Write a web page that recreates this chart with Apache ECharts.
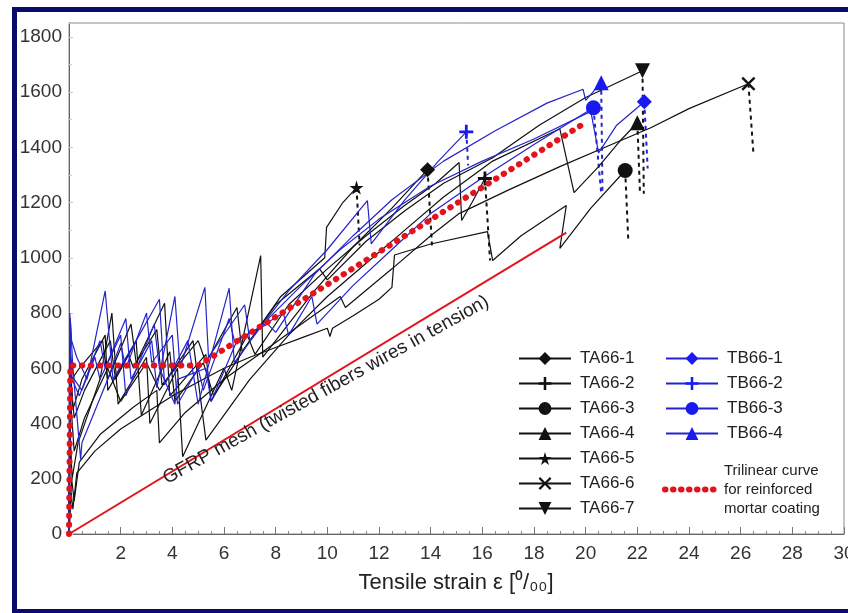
<!DOCTYPE html>
<html><head><meta charset="utf-8">
<script src="https://cdn.jsdelivr.net/npm/echarts@6/dist/echarts.min.js"></script>
<style>html,body{margin:0;padding:0;background:#fff;}#c{width:848px;height:613px;}</style>
</head><body><div id="c"></div>
<script>
// ---- data (strain in per mille, stress) ----
const TA66_1 = [[0,0],[0.04,380],[0.12,200],[0.35,330],[1.2,560],[1.66,800],[1.9,470],[3.0,640],[3.13,400],[4.2,600],[4.4,280],[6.0,600],[6.3,520],[7.42,1008],[7.5,640],[9.5,880],[11,1040],[12.5,1180],[13.88,1319]];
const TA66_2 = [[0,0],[0.06,600],[0.15,450],[0.5,560],[1.4,720],[1.5,520],[2.3,650],[2.5,600],[3.7,835],[3.9,500],[5.3,650],[5.5,480],[6.9,720],[7.2,650],[8.5,830],[10,960],[11.5,1080],[13,1190],[14.2,1270],[15.1,1345],[15.2,1135],[15.6,1200],[16.1,1287]];
const TA66_3 = [[0,0],[0.08,150],[0.15,90],[0.3,220],[1,300],[2,380],[3,440],[4,500],[5,550],[6,600],[7,640],[8,675],[9,710],[10,745],[10.1,715],[10.2,745],[11,790],[12,850],[12.5,893],[12.6,1010],[14,1050],[16.2,1095],[16.4,990],[17.5,1080],[19.25,1189],[19.0,1034],[20.2,1180],[21.53,1316]];
const TA66_4 = [[0,0],[0.05,500],[0.2,300],[0.6,420],[1.5,600],[2.0,480],[3.0,620],[3.5,520],[4.8,700],[5.3,340],[7,560],[8.5,720],[10,860],[11.5,980],[13,1100],[14.5,1220],[16.4,1350],[19.0,1467],[19.55,1236],[20.5,1330],[21.3,1420],[22.0,1489]];
const TA66_5 = [[0,0],[0.07,560],[0.2,420],[0.6,520],[1.6,700],[1.8,560],[2.6,700],[2.8,430],[3.9,660],[4.1,480],[5.2,620],[5.6,500],[7,700],[8.2,860],[9.9,1000],[9.97,1110],[10.6,1200],[11.13,1254]];
const TA66_6 = [[0,0],[0.1,200],[0.2,120],[0.4,260],[1.2,360],[2.5,460],[3.4,520],[3.5,330],[4.5,440],[6,560],[7.5,660],[9,760],[10.5,860],[10.7,820],[12.5,960],[14,1080],[15.1,1160],[17,1245],[19,1330],[21,1410],[22.5,1470],[24,1540],[26.3,1630]];
const TA66_7 = [[0,0],[0.05,620],[0.1,560],[0.4,600],[1.3,700],[1.5,560],[2.4,760],[2.6,620],[3.4,740],[3.6,540],[5,700],[5.3,620],[6.5,820],[6.7,660],[8,830],[9.7,960],[10,920],[11.5,1060],[13,1170],[14.5,1270],[16.4,1362],[18.2,1480],[20,1580],[22.2,1677]];
const TB66_1 = [[0,0],[0.03,800],[0.1,700],[0.3,640],[0.7,560],[1.4,880],[1.7,560],[2.6,700],[3.5,850],[3.7,540],[4.6,700],[5.0,470],[6.2,890],[6.4,620],[7.5,760],[9,900],[10.5,1030],[12,1140],[14,1260],[16,1350],[18,1430],[20.2,1530],[20.5,1380],[21.2,1480],[22.27,1565]];
const TB66_2 = [[0,0],[0.04,700],[0.12,560],[0.4,500],[1.2,700],[1.4,600],[2.2,780],[2.4,560],[3.2,700],[3.4,530],[4.1,860],[4.3,600],[5.26,893],[5.4,640],[6.8,830],[7.0,700],[8.5,880],[10,1030],[11.55,1207],[11.7,1050],[13,1210],[14.3,1350],[15.38,1456]];
const TB66_3 = [[0,0],[0.05,650],[0.2,560],[0.5,520],[1.0,640],[1.2,560],[2.0,720],[2.2,500],[3.3,760],[3.5,600],[4.1,470],[4.2,560],[5.3,600],[5.5,480],[6.5,700],[8.3,800],[8.5,720],[9.4,860],[9.6,760],[11,900],[12.5,1030],[14,1160],[16,1290],[18,1410],[20.3,1543]];
const TB66_4 = [[0,0],[0.05,780],[0.15,600],[0.45,270],[0.5,330],[1.5,560],[2.0,690],[2.2,600],[3.0,800],[3.2,620],[4.0,720],[4.2,470],[5.0,600],[5.2,520],[6.2,780],[6.4,700],[7.7,760],[8,730],[9.5,940],[11,1080],[12.5,1210],[14.5,1350],[16.5,1460],[18.5,1560],[19.9,1610],[20.0,1570],[20.6,1634]];
// post-peak drops (dashed)
const DROP_TA66_1 = [[13.88,1319],[14.05,1045]];
const DROP_TA66_2 = [[16.1,1287],[16.3,990]];
const DROP_TA66_3 = [[21.53,1316],[21.65,1062]];
const DROP_TA66_4 = [[22.0,1489],[22.1,1243]];
const DROP_TA66_5 = [[11.13,1254],[11.25,1045]];
const DROP_TA66_6 = [[26.3,1630],[26.5,1370]];
const DROP_TA66_7 = [[22.2,1677],[22.25,1232]];
const DROP_TB66_1 = [[22.27,1565],[22.4,1323]];
const DROP_TB66_2 = [[15.38,1456],[15.45,1334]];
const DROP_TB66_3 = [[20.3,1543],[20.6,1236]];
const DROP_TB66_4 = [[20.6,1634],[20.65,1243]];
const GFRP = [[0,0],[19.25,1091]];
const TRILINEAR = [[0,0],[0.05,610],[5,610],[20,1490]];
const X_LABELS = [2,4,6,8,10,12,14,16,18,20,22,24,26,28,30];
const Y_LABELS = [0,200,400,600,800,1000,1200,1400,1600,1800];

const FONT = '"Liberation Sans", Arial, Helvetica, sans-serif';
const BLACK = '#111111', BLUE = '#2424cc', BLUEM = '#1a1af0', RED = '#e3121b';
const SYM = {
  plus: 'path://M0,4 L4,4 L4,0 L6,0 L6,4 L10,4 L10,6 L6,6 L6,10 L4,10 L4,6 L0,6 Z',
  cross: 'path://M1.2,0 L5,3.8 L8.8,0 L10,1.2 L6.2,5 L10,8.8 L8.8,10 L5,6.2 L1.2,10 L0,8.8 L3.8,5 L0,1.2 Z',
  star: 'path://M5,0 L6.2,3.6 L10,3.6 L6.9,5.9 L8.1,9.5 L5,7.3 L1.9,9.5 L3.1,5.9 L0,3.6 L3.8,3.6 Z',
  down: 'path://M0,0 L10,0 L5,9 Z'
};

const chart = echarts.init(document.getElementById('c'));
const series = [];
function specimen(name, data, drop, color, mcolor, symbol, size) {
  const n = data.length;
  series.push({
    name: name, type: 'line', data: data, symbol: symbol,
    symbolSize: function (v, p) { return p.dataIndex === n - 1 ? size : 0; },
    showSymbol: true, lineStyle: { color: color, width: 1.2 },
    itemStyle: { color: mcolor }, z: 3, silent: true
  });
  series.push({
    name: name + ' drop', type: 'line', data: drop, symbol: 'none',
    lineStyle: { color: color, width: 2, type: [4, 4] }, z: 2, silent: true
  });
}
specimen('TA66-1', TA66_1, DROP_TA66_1, BLACK, BLACK, 'diamond', 15);
specimen('TA66-2', TA66_2, DROP_TA66_2, BLACK, BLACK, SYM.plus, 14);
specimen('TA66-3', TA66_3, DROP_TA66_3, BLACK, BLACK, 'circle', 15);
specimen('TA66-4', TA66_4, DROP_TA66_4, BLACK, BLACK, 'triangle', 15);
specimen('TA66-5', TA66_5, DROP_TA66_5, BLACK, BLACK, SYM.star, 14);
specimen('TA66-6', TA66_6, DROP_TA66_6, BLACK, BLACK, SYM.cross, 14);
specimen('TA66-7', TA66_7, DROP_TA66_7, BLACK, BLACK, SYM.down, 15);
specimen('TB66-1', TB66_1, DROP_TB66_1, BLUE, BLUEM, 'diamond', 15);
specimen('TB66-2', TB66_2, DROP_TB66_2, BLUE, BLUEM, SYM.plus, 14);
specimen('TB66-3', TB66_3, DROP_TB66_3, BLUE, BLUEM, 'circle', 15);
specimen('TB66-4', TB66_4, DROP_TB66_4, BLUE, BLUEM, 'triangle', 15);
series.push({
  name: 'GFRP', type: 'line', data: GFRP, symbol: 'none',
  lineStyle: { color: RED, width: 2 }, z: 4, silent: true
});
series.push({
  name: 'Trilinear', type: 'line', data: TRILINEAR, symbol: 'circle', showSymbol: false,
  lineStyle: { color: RED, width: 6, type: [0.5, 8.5], cap: 'round' },
  itemStyle: { color: 'rgba(0,0,0,0)' }, z: 5, silent: true
});

const legendCommon = {
  orient: 'vertical', padding: 0, itemHeight: 16, itemGap: 8, selectedMode: false,
  textStyle: { fontSize: 17, color: '#222', fontFamily: FONT, padding: [0, 0, 0, 4] }
};

chart.setOption({
  animation: false,
  backgroundColor: '#ffffff',
  grid: { left: 69, right: 4, top: 23, bottom: 79, show: true, borderColor: '#8a8a8a', borderWidth: 1,
          containLabel: false, outerBoundsMode: 'none' },
  xAxis: {
    type: 'value', min: 0, max: 30, interval: 2,
    axisLine: { lineStyle: { color: '#666' } },
    axisTick: { inside: true, length: 7, lineStyle: { color: '#777' } },
    minorTick: { show: true, splitNumber: 4, length: 3, lineStyle: { color: '#888' } },
    splitLine: { show: false },
    axisLabel: {
      fontSize: 19, color: '#333', fontFamily: FONT, margin: 10, hideOverlap: false,
      formatter: function (v) { return X_LABELS.indexOf(v) >= 0 ? String(v) : ''; }
    }
  },
  yAxis: {
    type: 'value', min: 0, max: 1850, interval: 200,
    axisLine: { show: true, lineStyle: { color: '#666' } },
    axisTick: { inside: true, length: 4, lineStyle: { color: '#c8c8c8' } },
    minorTick: { show: true, splitNumber: 2, length: 3, lineStyle: { color: '#d0d0d0' } },
    splitLine: { show: false },
    axisLabel: {
      fontSize: 19, color: '#333', fontFamily: FONT, margin: 7,
      formatter: function (v) { return Y_LABELS.indexOf(v) >= 0 ? String(v) : ''; }
    }
  },
  legend: [
    Object.assign({}, legendCommon, { left: 518, top: 350, itemWidth: 52,
      data: ['TA66-1','TA66-2','TA66-3','TA66-4','TA66-5','TA66-6','TA66-7'] }),
    Object.assign({}, legendCommon, { left: 665, top: 350, itemWidth: 52,
      data: ['TB66-1','TB66-2','TB66-3','TB66-4'] }),
    Object.assign({}, legendCommon, { left: 662, top: 461, itemWidth: 50,
      data: ['Trilinear'],
      itemStyle: { color: 'rgba(0,0,0,0)', borderWidth: 0 },
      lineStyle: { color: RED, width: 6, type: [0.5, 7.5], cap: 'round' },
      formatter: function () { return 'Trilinear curve\nfor reinforced\nmortar coating'; },
      textStyle: { fontSize: 15, lineHeight: 19, color: '#222', fontFamily: FONT, padding: [0, 0, 0, 4] } })
  ],
  graphic: [
    { type: 'rect', shape: { x: 12, y: 7, width: 836, height: 5 }, style: { fill: '#0b0b6b' }, silent: true },
    { type: 'rect', shape: { x: 12, y: 7, width: 5, height: 606 }, style: { fill: '#0b0b6b' }, silent: true },
    { type: 'rect', shape: { x: 12, y: 609, width: 836, height: 4 }, style: { fill: '#0b0b6b' }, silent: true },
    { type: 'text', x: 326, y: 390, rotation: 29 * Math.PI / 180, silent: true, z: 10,
      style: { text: 'GFRP mesh (twisted fibers wires in tension)', fontSize: 19, fontFamily: FONT, fill: '#222',
               align: 'center', verticalAlign: 'middle', textAlign: 'center', textVerticalAlign: 'middle' } },
    { type: 'text', x: 456, y: 583, silent: true, z: 10,
      style: { text: 'Tensile strain \u03b5 [\u2070/\u2080\u2080]', fontSize: 22, fontFamily: FONT, fill: '#222',
               align: 'center', verticalAlign: 'middle', textAlign: 'center', textVerticalAlign: 'middle' } }
  ],
  series: series
});
</script>
</body></html>
